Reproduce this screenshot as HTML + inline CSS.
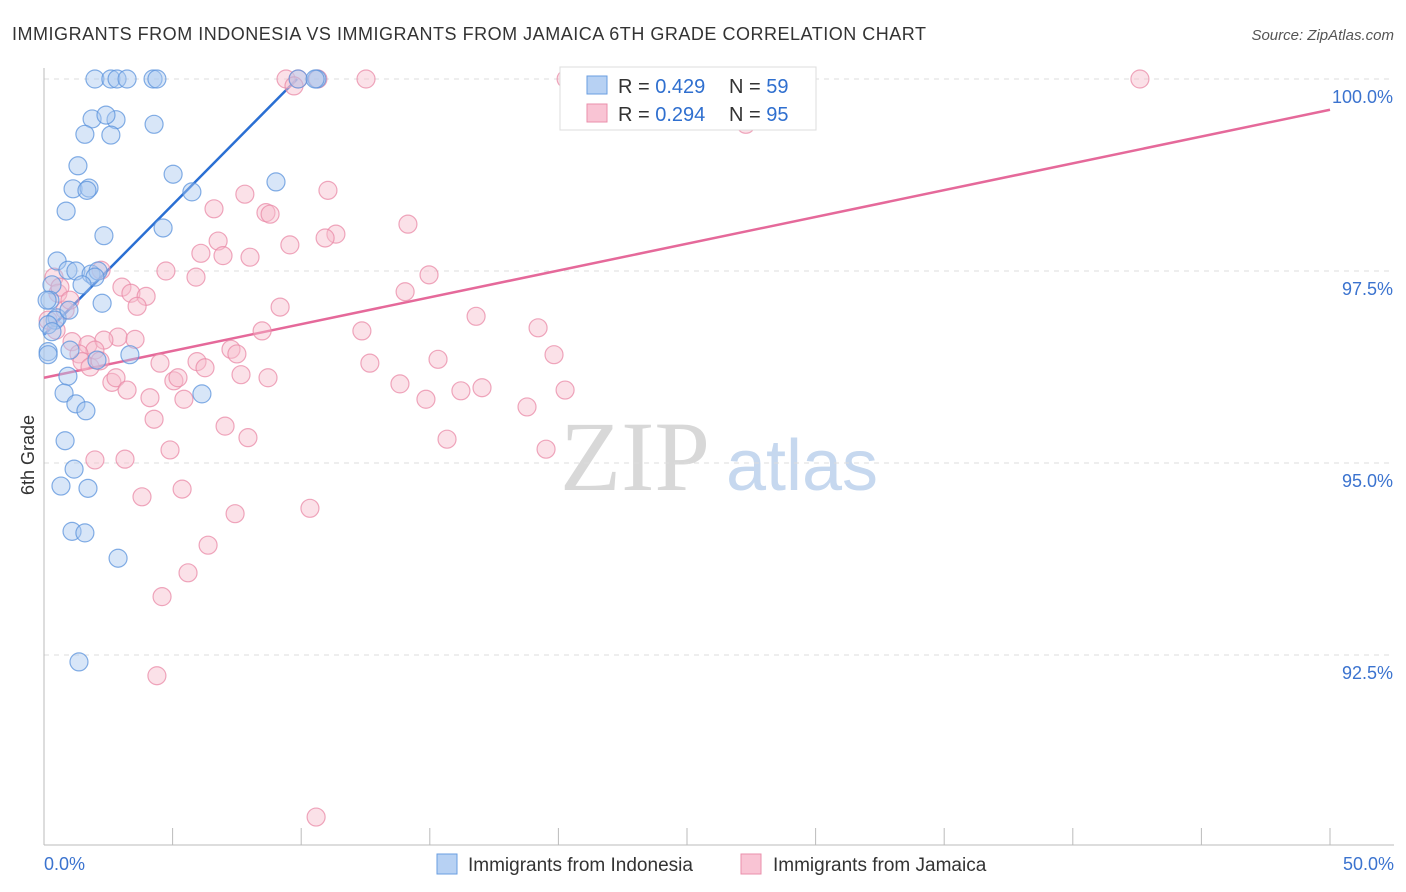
<!DOCTYPE html>
<html><head><meta charset="utf-8"><style>
body{margin:0;background:#fff;font-family:"Liberation Sans",sans-serif;}
svg{display:block}
</style></head><body>
<svg id="chart" width="1406" height="892" xmlns="http://www.w3.org/2000/svg">
<text x="12" y="40" font-size="18" fill="#333" textLength="914" lengthAdjust="spacing">IMMIGRANTS FROM INDONESIA VS IMMIGRANTS FROM JAMAICA 6TH GRADE CORRELATION CHART</text>
<text x="1394" y="40" font-size="15" fill="#555" font-style="italic" text-anchor="end">Source: ZipAtlas.com</text>
<g>
<text x="635" y="490" font-size="100" font-family="Liberation Serif,serif" fill="#d8d8d8" text-anchor="middle">ZIP</text>
<text x="802" y="490" font-size="72" fill="#c6d8ef" text-anchor="middle">atlas</text>
</g>
<g id="grid"></g><g id="axes"></g><g id="lines"></g><g id="pts"></g>
<text transform="translate(34,455) rotate(-90)" font-size="18" fill="#333" text-anchor="middle">6th Grade</text>
<g>
<rect x="560" y="67" width="256" height="63" fill="#fff" stroke="#ddd"/>
<rect x="587" y="76" width="20" height="18" fill="#b7d1f3" stroke="#6a9ee0"/>
<rect x="587" y="104" width="20" height="18" fill="#f9c4d4" stroke="#ea8fab"/>
<text x="618" y="93" font-size="20" fill="#333">R = <tspan fill="#2f6fcf">0.429</tspan></text>
<text x="729" y="93" font-size="20" fill="#333">N = <tspan fill="#2f6fcf">59</tspan></text>
<text x="618" y="121" font-size="20" fill="#333">R = <tspan fill="#2f6fcf">0.294</tspan></text>
<text x="729" y="121" font-size="20" fill="#333">N = <tspan fill="#2f6fcf">95</tspan></text>
</g>
<g>
<rect x="437" y="854" width="20" height="20" fill="#b7d1f3" stroke="#6a9ee0"/>
<text x="468" y="871" font-size="19" fill="#333">Immigrants from Indonesia</text>
<rect x="741" y="854" width="20" height="20" fill="#f9c4d4" stroke="#ea8fab"/>
<text x="773" y="871" font-size="19" fill="#333">Immigrants from Jamaica</text>
</g>
</svg>
<script>
const yTicks=[92.5,95.0,97.5,100.0];
const xTickLabels=["0.0%","50.0%"];
const blueX=[1.98,2.6,2.84,3.23,4.24,4.39,9.88,10.61,10.54,1.87,2.8,2.41,1.59,2.6,4.28,1.32,1.13,1.75,1.67,0.86,5.02,5.75,9.02,4.63,2.33,0.51,0.93,1.24,1.83,2.1,1.98,1.48,2.26,0.31,0.23,0.51,0.43,0.97,0.16,0.31,1.01,2.06,3.34,0.16,0.16,0.93,0.78,1.24,1.63,6.14,0.82,1.17,0.66,1.71,1.09,1.59,2.88,1.36,0.12];
const blueY=[100,100,100,100,100,100,100,100,100,99.48,99.47,99.53,99.28,99.27,99.41,98.87,98.57,98.58,98.55,98.28,98.76,98.53,98.66,98.06,97.96,97.63,97.51,97.5,97.46,97.5,97.42,97.32,97.08,97.32,97.12,96.89,96.86,96.99,96.8,96.71,96.47,96.34,96.41,96.45,96.41,96.13,95.91,95.77,95.68,95.9,95.29,94.92,94.7,94.67,94.11,94.09,93.76,92.41,97.12];
const pinkX=[9.41,9.88,10.65,12.52,20.3,25.74,42.61,9.72,27.29,7.81,11.04,6.61,8.63,8.79,14.15,11.35,10.93,9.56,6.77,6.1,6.96,8.01,4.74,5.91,2.22,14.97,0.39,0.54,0.62,3.03,3.38,3.97,3.62,14.04,9.18,16.8,19.21,12.36,8.48,2.88,3.54,1.09,1.71,2.33,1.98,1.36,1.48,7.27,7.5,1.79,2.18,4.51,5.95,6.26,12.67,15.32,19.83,2.64,2.8,3.23,5.05,5.21,7.66,8.71,13.84,4.12,5.44,14.85,16.21,17.03,18.78,20.26,4.28,7.04,7.93,15.67,19.52,4.9,1.98,3.15,3.81,5.37,7.43,10.34,6.38,5.6,4.59,4.39,10.58,0.82,1.01,0.16,0.47];
const pinkY=[100,100,100,100,100,100,100,99.91,99.41,98.5,98.55,98.31,98.26,98.24,98.11,97.98,97.93,97.84,97.89,97.73,97.7,97.68,97.5,97.42,97.51,97.45,97.42,97.21,97.29,97.29,97.21,97.17,97.04,97.23,97.03,96.91,96.76,96.72,96.72,96.64,96.61,96.58,96.54,96.6,96.47,96.42,96.32,96.48,96.42,96.25,96.33,96.3,96.32,96.24,96.3,96.35,96.41,96.05,96.11,95.95,96.07,96.11,96.15,96.11,96.03,95.85,95.83,95.83,95.94,95.98,95.73,95.95,95.57,95.48,95.33,95.31,95.18,95.17,95.04,95.05,94.56,94.66,94.34,94.41,93.93,93.57,93.26,92.23,90.39,96.99,97.12,96.86,96.73];
const blueLine=[[0,96.67],[9.84,100]];
const pinkLine=[[0,96.11],[50,99.6]];
const NS="http://www.w3.org/2000/svg";
const X0=44,X1=1330,Y100=79,PXPER=76.8;
const sx=v=>X0+(X1-X0)*v/50;
const sy=v=>Y100+(100-v)*PXPER;
function mk(tag,attrs,parent){const e=document.createElementNS(NS,tag);for(const k in attrs)e.setAttribute(k,attrs[k]);document.getElementById(parent).appendChild(e);return e;}
yTicks.forEach(t=>{
 const l=mk('line',{x1:X0,x2:1394,y1:sy(t),y2:sy(t),stroke:'#ddd','stroke-dasharray':'5,5'},'grid');
 
 
 const tx=mk('text',{x:1393,y:sy(t)+24,'font-size':18,fill:'#3b73cf','text-anchor':'end'},'grid');
 tx.textContent=t.toFixed(1)+'%';
 
 
});
const ax=mk('line',{x1:X0,x2:X0,y1:68,y2:845,stroke:'#bbb'},'axes');


const bx=mk('line',{x1:X0,x2:1394,y1:845,y2:845,stroke:'#bbb'},'axes');


for(let i=0;i<=10;i++){const t=mk('line',{x1:sx(i*5),x2:sx(i*5),y1:828,y2:845,stroke:'#bbb'},'axes');
 
 }
[[0,'start',xTickLabels[0]],[50,'end',xTickLabels[1]]].forEach(([v,a,s])=>{
 const t=mk('text',{x:v==0?44:1394,y:870,'font-size':18,fill:'#3b73cf','text-anchor':a},'axes');t.textContent=s;
 
 });
function dots(xs,ys,fill,stroke,name){xs.forEach((x,i)=>{
 const c=mk('circle',{cx:sx(x),cy:sy(ys[i]),r:9,fill:fill,'fill-opacity':0.45,stroke:stroke,'stroke-width':1.2,'stroke-opacity':0.75},'pts');
 
 });}
dots(pinkX,pinkY,'#f7bccd','#ea8aa7','jamaica-point');
dots(blueX,blueY,'#a9c8f0','#5b93dc','indonesia-point');
const bl=mk('line',{x1:sx(blueLine[0][0]),y1:sy(blueLine[0][1]),x2:sx(blueLine[1][0]),y2:sy(blueLine[1][1]),stroke:'#2a6fd3','stroke-width':2.5},'lines');


const pl=mk('line',{x1:sx(pinkLine[0][0]),y1:sy(pinkLine[0][1]),x2:sx(pinkLine[1][0]),y2:sy(pinkLine[1][1]),stroke:'#e5699a','stroke-width':2.5},'lines');


</script>
</body></html>
